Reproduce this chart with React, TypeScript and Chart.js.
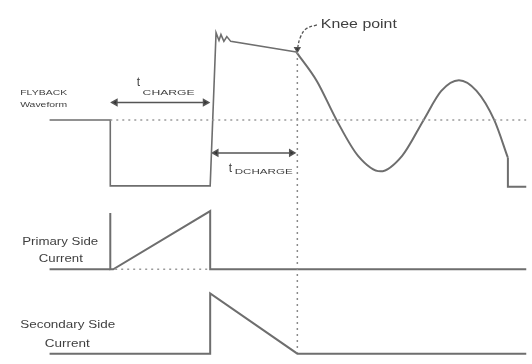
import React, { useEffect, useRef } from "react";
import { Chart, registerables } from "chart.js";

Chart.register(...registerables);

// Time axis (arbitrary units) and level axis (arbitrary units, top = 0)
const flybackT = [45, 107, 107, 209, 215, 218, 220, 223, 226, 230, 297];
const flybackV = [118, 118, 186, 186, 28, 36, 30, 37, 32, 37, 48];
const ringT = [297, 318, 338, 360, 383, 405, 427, 445, 463, 481, 499, 513];
const ringV = [48, 78, 118, 155, 171, 155, 118, 88, 77, 88, 118, 157];
const tailT = [513, 513, 532];
const tailV = [157, 187, 187];
const refLevelT = [107, 532];
const refLevelV = [118, 118];
const kneeMarkT = [298, 298];
const kneeMarkV = [48, 358];

const primBaseT = [45, 107];
const primBaseV = [272, 272];
const primIdleT = [112, 207];
const primIdleV = [272, 272];
const primT = [107, 107, 110, 209, 209, 532];
const primV = [214, 272, 272, 212, 272, 272];

const secT = [45, 209, 209, 298, 532];
const secV = [359, 359, 297, 359, 359];

const chargeArrowT = [112, 204];
const chargeArrowV = [100, 100];
const dchargeArrowT = [215, 292];
const dchargeArrowV = [152, 152];
const kneeLeadT = [318, 307, 301, 298];
const kneeLeadV = [20, 24, 33, 45];

const labelTexts = ["FLYBACK", "Waveform", "Knee point", "Primary Side", "Current", "Secondary Side", "Current", "t", "CHARGE", "t", "DCHARGE"];
const labelX = [15, 15, 322, 17, 34, 15, 40, 134, 140, 228, 234];
const labelY = [90, 103, 20, 244, 262, 330, 349, 80, 90, 168, 171];
const labelW = [47, 47, 76, 76, 44, 95, 45, 0, 52, 0, 58];
const labelSize = [7.5, 7.5, 12, 10.5, 10.5, 10.5, 10.5, 12, 8, 12, 8];

const pts = (t: number[], v: number[]) => t.map((x, i) => ({ x, y: v[i] }));

const LINE = "#6e6e6e";
const TEXT = "#3f3f3f";

const textPlugin = {
  id: "diagramText",
  afterDatasetsDraw(chart: any) {
    const { ctx, scales } = chart;
    ctx.save();
    ctx.fillStyle = TEXT;
    ctx.textBaseline = "middle";
    ctx.textAlign = "left";
    labelTexts.forEach((txt, i) => {
      const px = scales.x.getPixelForValue(labelX[i]);
      const py = scales.y.getPixelForValue(labelY[i]);
      ctx.font = `${labelSize[i]}px "Liberation Sans", Arial, sans-serif`;
      const natural = ctx.measureText(txt).width;
      const sx = labelW[i] > 0 ? labelW[i] / natural : 1;
      ctx.save();
      ctx.translate(px, py);
      ctx.scale(sx, 1);
      ctx.fillText(txt, 0, 0);
      ctx.restore();
    });
    ctx.restore();
  },
};

const solid = (data: any[], extra: any = {}) => ({
  data,
  showLine: true,
  borderColor: LINE,
  backgroundColor: LINE,
  borderWidth: 2,
  pointRadius: 0,
  tension: 0,
  ...extra,
});

export default function App() {
  const ref = useRef<HTMLCanvasElement>(null);
  useEffect(() => {
    if (!ref.current) return;
    const chart = new Chart(ref.current, {
      type: "scatter",
      data: {
        datasets: [
          solid(pts(refLevelT, refLevelV), { borderColor: "#9a9a9a", borderWidth: 1.5, borderDash: [2, 4] }),
          solid(pts(kneeMarkT, kneeMarkV), { borderColor: "#8a8a8a", borderWidth: 1.5, borderDash: [2, 4] }),
          solid(pts(primIdleT, primIdleV), { borderColor: "#9a9a9a", borderWidth: 1.5, borderDash: [2, 4] }),
          solid(pts(flybackT, flybackV), { borderWidth: 1.6 }),
          solid(pts(ringT, ringV), { cubicInterpolationMode: "monotone" }),
          solid(pts(tailT, tailV)),
          solid(pts(primBaseT, primBaseV)),
          solid(pts(primT, primV)),
          solid(pts(secT, secV)),
          solid(pts(chargeArrowT, chargeArrowV), {
            borderWidth: 1.5,
            pointRadius: 3.5,
            pointStyle: "triangle",
            pointRotation: [-90, 90],
            borderColor: "#555",
            backgroundColor: "#333",
          }),
          solid(pts(dchargeArrowT, dchargeArrowV), {
            borderWidth: 1.5,
            pointRadius: 3.5,
            pointStyle: "triangle",
            pointRotation: [-90, 90],
            borderColor: "#555",
            backgroundColor: "#333",
          }),
          solid(pts(kneeLeadT, kneeLeadV), {
            borderWidth: 1.3,
            borderDash: [3, 2],
            tension: 0.4,
            borderColor: "#555",
            backgroundColor: "#333",
            pointRadius: [0, 0, 0, 3],
            pointStyle: "triangle",
            pointRotation: 180,
          }),
        ],
      },
      options: {
        animation: false,
        responsive: false,
        events: [],
        layout: { padding: 0 },
        plugins: { legend: { display: false }, tooltip: { enabled: false } },
        scales: {
          x: { type: "linear", min: 0, max: 532, display: false },
          y: { type: "linear", min: 0, max: 364, reverse: true, display: false },
        },
      },
      plugins: [textPlugin],
    });
    return () => chart.destroy();
  }, []);
  return (
    <div style={{ position: "absolute", left: 0, top: 0, width: 532, height: 364, background: "#fff" }}>
      <canvas ref={ref} width={532} height={364} />
    </div>
  );
}
